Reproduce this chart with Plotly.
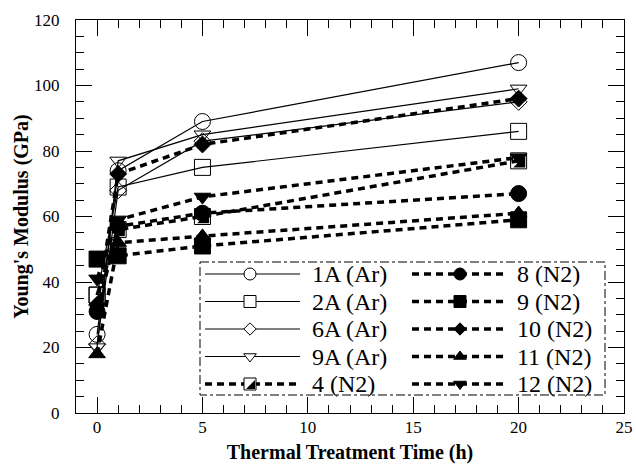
import plotly.graph_objects as go

# ---------------- data ----------------
times = [0, 1, 5, 20]
ar_names = ["1A (Ar)", "2A (Ar)", "6A (Ar)", "9A (Ar)"]
ar_values = [
    [24, 74, 89, 107],
    [36, 69, 75, 86],
    [21, 68, 83, 95],
    [20, 77, 85, 99],
]
n2_names = ["4 (N2)", "8 (N2)", "9 (N2)", "10 (N2)", "11 (N2)", "12 (N2)"]
n2_values = [
    [36, 56, 60, 77],
    [31, 57, 61, 67],
    [47, 48, 51, 59],
    [33, 73, 82, 96],
    [18, 52, 54, 61],
    [41, 59, 66, 78],
]
x_ticks = [0, 5, 10, 15, 20, 25]
y_ticks = [0, 20, 40, 60, 80, 100, 120]

# ---------------- style ----------------
FONT = "Liberation Serif, Times New Roman, Times, serif"
W, H = 636, 464
ML, MR, MT, MB = 76, 12, 20, 51
PW, PH = W - ML - MR, H - MT - MB
XR = [-1, 25]
YR = [0, 120]
ppx = PW / (XR[1] - XR[0])
ppy = PH / (YR[1] - YR[0])

ar_symbols = ["circle-open", "square-open", "diamond-open", "triangle-down-open"]
ar_sizes = [16, 16, 13, 14.5]
n2_symbols = ["square-open", "circle", "square", "diamond", "triangle-up", "triangle-down"]
n2_sizes = [16, 16, 16, 13, 14.5, 14.5]
DASH = "7px,5px"

# half-filled square: filled right triangle in lower-right corner
SQ = 16.0
TRI_FACTOR = 2.4  # leg length / r for plotly corner triangles
tri_size = SQ * 2 / TRI_FACTOR
shift_px = SQ / 2 / 3
dx = shift_px / ppx
dy = shift_px / ppy

fig = go.Figure()

for name, vals, sym, sz in zip(ar_names, ar_values, ar_symbols, ar_sizes):
    fig.add_trace(go.Scatter(
        x=times, y=vals, mode="lines+markers", name=name, showlegend=False,
        line=dict(color="black", width=1.2),
        marker=dict(symbol=sym, size=sz, color="black", line=dict(color="black", width=1)),
    ))

for i, (name, vals, sym, sz) in enumerate(zip(n2_names, n2_values, n2_symbols, n2_sizes)):
    fig.add_trace(go.Scatter(
        x=times, y=vals, mode="lines+markers", name=name, showlegend=False,
        line=dict(color="black", width=3.5, dash=DASH),
        marker=dict(symbol=sym, size=sz, color="black", line=dict(color="black", width=1)),
    ))
    if i == 0:
        fig.add_trace(go.Scatter(
            x=times, y=vals, mode="markers", showlegend=False, xaxis="x3", yaxis="y3",
            marker=dict(symbol="triangle-se", size=tri_size, color="black", line=dict(width=0)),
        ))

# ---------------- hand-drawn legend (pixel axes x2/y2) ----------------
row_y = [274, 301.5, 329, 356.5, 384]
cols = [dict(x0=205, x1=300, xm=250, xt=310), dict(x0=412, x1=505, xm=460, xt=515)]
leg_items = []
for k in range(4):
    leg_items.append((0, k, ar_names[k], ar_symbols[k].replace("-open", ""), "solid", 1.2, True))
leg_items.append((0, 4, n2_names[0], "square", DASH, 3.5, True))
for k in range(1, 6):
    leg_items.append((1, k - 1, n2_names[k], n2_symbols[k], DASH, 3.5, False))

leg_sizes = {"circle": 12, "square": 12, "diamond": 9.5, "triangle-down": 11, "triangle-up": 11}
for col, row, name, sym, dash, lw, openm in leg_items:
    c = cols[col]
    yv = row_y[row]
    fig.add_trace(go.Scatter(
        x=[c["x0"], c["x1"]], y=[yv, yv], mode="lines", xaxis="x2", yaxis="y2",
        showlegend=False, line=dict(color="black", width=lw, dash=dash),
    ))
    fig.add_trace(go.Scatter(
        x=[c["xm"]], y=[yv], mode="markers", xaxis="x2", yaxis="y2", showlegend=False,
        marker=dict(symbol=sym, size=leg_sizes[sym], color="white" if openm else "black",
                    line=dict(color="black", width=1)),
    ))
    if name == n2_names[0]:
        ts = 12 * 2 / TRI_FACTOR
        sh = 12 / 2 / 3
        fig.add_trace(go.Scatter(
            x=[c["xm"] + sh], y=[yv + sh], mode="markers", xaxis="x2", yaxis="y2", showlegend=False,
            marker=dict(symbol="triangle-se", size=ts, color="black", line=dict(width=0)),
        ))
    fig.add_annotation(x=c["xt"], y=yv, xref="x2", yref="y2", text=name, showarrow=False,
                       xanchor="left", yanchor="middle", font=dict(family=FONT, size=24, color="black"))

fig.add_shape(type="rect", xref="x2", yref="y2", x0=200, x1=605, y0=262, y1=395,
              line=dict(color="black", width=1, dash="dashdot"))

axis_common = dict(
    showline=True, linecolor="black", linewidth=1, mirror="allticks",
    ticks="inside", tickcolor="black", tickwidth=1, ticklen=16,
    showgrid=False, zeroline=False, automargin=False,
    tickfont=dict(family=FONT, size=17, color="black"),
)

fig.update_layout(
    width=W, height=H,
    margin=dict(l=ML, r=MR, t=MT, b=MB, autoexpand=False),
    paper_bgcolor="white", plot_bgcolor="white",
    showlegend=False,
    xaxis=dict(range=XR, tickvals=x_ticks, **axis_common,
               minor=dict(dtick=1, ticks="inside", ticklen=8, tickcolor="black"),
               ticklabelstandoff=-1,
               title=dict(text="<b>Thermal Treatment Time (h)</b>", standoff=12,
                          font=dict(family=FONT, size=20, color="black"))),
    yaxis=dict(range=YR, tickvals=y_ticks, **axis_common,
               minor=dict(dtick=5, ticks="inside", ticklen=8, tickcolor="black"),
               ticklabelstandoff=12,
               title=dict(text="<b>Young's Modulus (GPa)</b>", standoff=0,
                          font=dict(family=FONT, size=20, color="black"))),
    xaxis2=dict(overlaying="x", anchor="y2", range=[ML, W - MR], visible=False),
    yaxis2=dict(overlaying="y", anchor="x2", range=[H - MB, MT], visible=False),
    xaxis3=dict(overlaying="x", anchor="y3", range=[XR[0] - dx, XR[1] - dx], visible=False),
    yaxis3=dict(overlaying="y", anchor="x3", range=[YR[0] + dy, YR[1] + dy], visible=False),
)

fig.write_html("out.html")
